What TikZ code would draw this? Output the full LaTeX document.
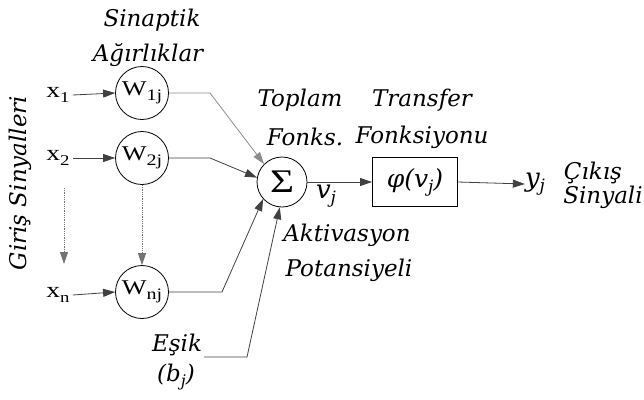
\documentclass[tikz,border=0pt]{standalone}
\usepackage{fontspec}
\setmainfont{Liberation Serif}[FakeStretch=1.25]
\newfontfamily\itf{DejaVu Serif}
\usetikzlibrary{arrows.meta}
\newcommand\lowsub[2][15]{\raisebox{-5pt}{\fontsize{#1}{#1}\selectfont #2}}
\begin{document}
\begin{tikzpicture}[x=1pt,y=-1pt,
  wc/.style={circle,draw,line width=0.8pt,minimum size=53pt,inner sep=0pt,font=\fontsize{21}{21}\selectfont},
  sc/.style={circle,draw,line width=0.8pt,minimum size=50pt,inner sep=0pt,font=\fontsize{33}{33}\selectfont},
  bx/.style={draw,line width=0.9pt,minimum width=85pt,minimum height=49pt,inner sep=0pt,font=\itf\itshape\fontsize{25}{25}\selectfont},
  lbl/.style={font=\itf\itshape\fontsize{23}{23}\selectfont,inner sep=0pt},
  big/.style={font=\itf\itshape\fontsize{26}{26}\selectfont,inner sep=0pt},
  inp/.style={font=\fontsize{22}{22}\selectfont,inner sep=0pt},
  conn/.style={line width=0.8pt,draw=black!75},
  arr/.style={conn,-{Triangle[length=12pt,width=8pt]}},
  dots/.style={arr,densely dotted,draw=black!55}
]
\useasboundingbox (0,0) rectangle (644,399);
% weight circles
\node[wc] (w1) at (142,93) {W\lowsub[16]{1j}};
\node[wc] (w2) at (142,158) {W\lowsub[16]{2j}};
\node[wc] (wn) at (142,292) {W\lowsub[16]{nj}};
% inputs
\node[inp] (x1) at (58,95) {x\lowsub{1}};
\node[inp] (x2) at (58,158) {x\lowsub{2}};
\node[inp] (xn) at (58,295) {x\lowsub{n}};
% summation, transfer
\node[sc] (sum) at (282,182) {Σ};
\node[bx] (box) at (415,182) {φ(v\lowsub[17]{j})};
\node[big] (yj) at (535,184) {y\lowsub[17]{j}};
\node[big] (vj) at (326,196) {v\lowsub[17]{j}};
% labels
\node[lbl] (s1) at (152,20) {Sinaptik};
\node[lbl] (s2) at (148,55) {Ağırlıklar};
\node[lbl] (t1) at (300,100) {Toplam};
\node[lbl] (t2) at (305,137) {Fonks.};
\node[lbl] (f1) at (422,100) {Transfer};
\node[lbl] (f2) at (422,137) {Fonksiyonu};
\node[lbl] (a1) at (347,235) {Aktivasyon};
\node[lbl] (a2) at (349,270) {Potansiyeli};
\node[lbl] (c1) at (593,173) {Çıkış};
\node[lbl] (c2) at (603,197) {Sinyali};
\node[lbl] (e1) at (177,345) {Eşik};
\node[lbl] (e2) at (176,377) {(b\lowsub[16]{j})};
\node[lbl,rotate=90] (gs) at (20,183) {Giriş Sinyalleri};
% connectors
\coordinate (d1s) at (64,188);
\coordinate (d1e) at (64,264);
\coordinate (b1) at (210,93);
\coordinate (b2) at (210,158);
\coordinate (bn) at (222,292);
\coordinate (be) at (247,357);
\draw[arr] (x1.east) ++(3,0) -- (w1.west);
\draw[arr] (x2.east) ++(3,0) -- (w2.west);
\draw[arr] (xn.east) ++(3,0) -- (wn.west);
\draw[dots] (d1s) -- (d1e);
\draw[dots] (w2.south) -- (wn.north);
\draw[arr,draw=black!45] (w1.east) -- (b1) -- (sum.135);
\draw[arr] (w2.east) -- (b2) -- (sum.170);
\draw[arr] (wn.east) -- (bn) -- (sum.222);
\draw[arr] (e1.east) ++(2,12) -- (be) -- (sum.265);
\draw[arr] (sum.east) -- (box.west);
\draw[arr] (box.east) -- (yj.west);
\end{tikzpicture}
\end{document}
